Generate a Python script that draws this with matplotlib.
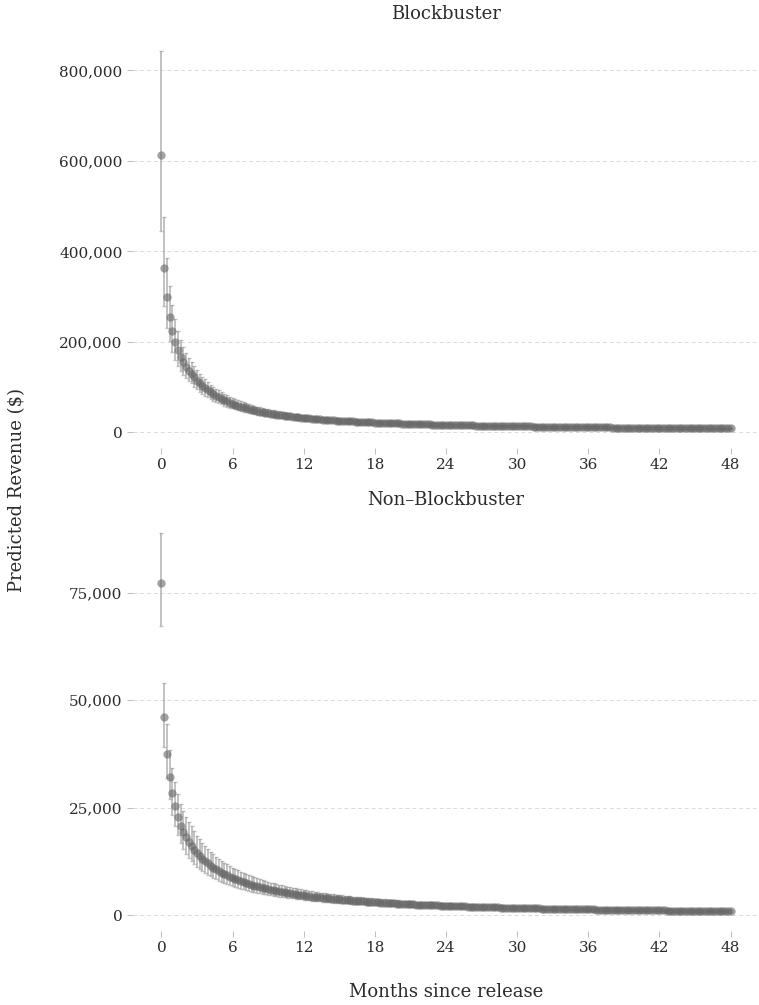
import numpy as np
import matplotlib
matplotlib.use("Agg")
import matplotlib.pyplot as plt
from matplotlib.ticker import FuncFormatter

plt.rcParams['font.family'] = ['DejaVu Serif']

# one point per week, 208 weeks = 48 months
weeks = np.arange(209)
months = weeks * 12 / 52

# predicted revenue ($), blockbuster titles
top_rev = [
    613000, 364000, 298000, 255000, 224000, 200000, 181000, 166200, 154400, 144700,
    136500, 129500, 121300, 114100, 107900, 102400, 97500, 92500, 88000, 84000,
    80400, 77000, 74000, 70900, 68100, 65500, 63100, 60900, 58900, 56860,
    54970, 53190, 51530, 49970, 48500, 47110, 45810, 44570, 43390, 42280,
    41230, 40220, 39260, 38350, 37480, 36640, 35850, 35090, 34350, 33650,
    32980, 32330, 31710, 31130, 30580, 30050, 29540, 29050, 28580, 28120,
    27670, 27240, 26820, 26420, 26030, 25640, 25270, 24920, 24570, 24230,
    23900, 23580, 23270, 22970, 22670, 22390, 22110, 21830, 21570, 21310,
    21050, 20810, 20560, 20330, 20100, 19880, 19660, 19440, 19230, 19020,
    18820, 18630, 18430, 18250, 18060, 17880, 17710, 17530, 17360, 17190,
    17030, 16870, 16710, 16560, 16410, 16260, 16120, 15970, 15830, 15690,
    15560, 15420, 15290, 15160, 15040, 14910, 14790, 14670, 14550, 14440,
    14320, 14210, 14100, 13990, 13880, 13780, 13670, 13570, 13470, 13370,
    13270, 13180, 13080, 12990, 12900, 12810, 12720, 12630, 12540, 12460,
    12370, 12290, 12210, 12130, 12050, 11970, 11890, 11810, 11740, 11660,
    11590, 11510, 11440, 11370, 11300, 11230, 11160, 11100, 11030, 10960,
    10900, 10830, 10770, 10710, 10650, 10580, 10520, 10460, 10400, 10350,
    10290, 10230, 10170, 10120, 10060, 10010, 9950, 9900, 9850, 9800,
    9740, 9690, 9640, 9590, 9540, 9490, 9450, 9400, 9350, 9300,
    9260, 9210, 9170, 9120, 9080, 9030, 8990, 8940, 8900, 8860,
    8820, 8770, 8730, 8690, 8650, 8610, 8570, 8530, 8490,
]

# multiplicative width of the interval (upper = rev * ci, lower = rev / ci)
top_ci = [
    1.375, 1.305, 1.289, 1.27, 1.26, 1.25, 1.24, 1.23, 1.22, 1.21,
    1.2, 1.2, 1.2, 1.2, 1.2, 1.2, 1.2, 1.2, 1.2, 1.2, 1.2, 1.2, 1.2, 1.2, 1.2, 1.2, 1.2, 1.2, 1.2, 1.2,
    1.2, 1.2, 1.2, 1.2, 1.2, 1.2, 1.2, 1.2, 1.2, 1.2, 1.2, 1.2, 1.2, 1.2, 1.2, 1.2, 1.2, 1.2, 1.2, 1.2,
    1.2, 1.2, 1.2, 1.2, 1.2, 1.2, 1.2, 1.2, 1.2, 1.2, 1.2, 1.2, 1.2, 1.2, 1.2, 1.2, 1.2, 1.2, 1.2, 1.2,
    1.2, 1.2, 1.2, 1.2, 1.2, 1.2, 1.2, 1.2, 1.2, 1.2, 1.2, 1.2, 1.2, 1.2, 1.2, 1.2, 1.2, 1.2, 1.2, 1.2,
    1.2, 1.2, 1.2, 1.2, 1.2, 1.2, 1.2, 1.2, 1.2, 1.2, 1.2, 1.2, 1.2, 1.2, 1.2, 1.2, 1.2, 1.2, 1.2, 1.2,
    1.2, 1.2, 1.2, 1.2, 1.2, 1.2, 1.2, 1.2, 1.2, 1.2, 1.2, 1.2, 1.2, 1.2, 1.2, 1.2, 1.2, 1.2, 1.2, 1.2,
    1.2, 1.2, 1.2, 1.2, 1.2, 1.2, 1.2, 1.2, 1.2, 1.2, 1.2, 1.2, 1.2, 1.2, 1.2, 1.2, 1.2, 1.2, 1.2, 1.2,
    1.2, 1.2, 1.2, 1.2, 1.2, 1.2, 1.2, 1.2, 1.2, 1.2, 1.2, 1.2, 1.2, 1.2, 1.2, 1.2, 1.2, 1.2, 1.2, 1.2,
    1.2, 1.2, 1.2, 1.2, 1.2, 1.2, 1.2, 1.2, 1.2, 1.2, 1.2, 1.2, 1.2, 1.2, 1.2, 1.2, 1.2, 1.2, 1.2, 1.2,
    1.2, 1.2, 1.2, 1.2, 1.2, 1.2, 1.2, 1.2, 1.2, 1.2, 1.2, 1.2, 1.2, 1.2, 1.2, 1.2, 1.2, 1.2, 1.2,
]

# predicted revenue ($), non-blockbuster titles
bot_rev = [
    77300, 46000, 37600, 32200, 28300, 25400, 22900, 20800, 19300, 18070,
    17030, 16140, 15240, 14450, 13760, 13140, 12590, 12030, 11530, 11070,
    10650, 10270, 9920, 9570, 9240, 8930, 8650, 8390, 8140, 7890,
    7660, 7440, 7230, 7040, 6860, 6680, 6520, 6360, 6210, 6070,
    5920, 5780, 5650, 5530, 5400, 5290, 5180, 5070, 4970, 4870,
    4780, 4690, 4600, 4510, 4420, 4340, 4260, 4180, 4110, 4030,
    3960, 3900, 3830, 3770, 3710, 3650, 3590, 3530, 3480, 3430,
    3380, 3330, 3280, 3230, 3190, 3140, 3100, 3060, 3020, 2970,
    2930, 2890, 2850, 2820, 2780, 2740, 2710, 2670, 2640, 2600,
    2570, 2540, 2510, 2480, 2450, 2420, 2390, 2370, 2340, 2310,
    2290, 2260, 2240, 2210, 2190, 2170, 2140, 2120, 2090, 2070,
    2050, 2030, 2000, 1980, 1960, 1940, 1920, 1900, 1880, 1860,
    1840, 1830, 1810, 1790, 1770, 1760, 1740, 1720, 1710, 1690,
    1670, 1660, 1640, 1630, 1610, 1600, 1590, 1570, 1560, 1550,
    1530, 1520, 1510, 1490, 1480, 1470, 1460, 1440, 1430, 1420,
    1410, 1400, 1390, 1380, 1370, 1360, 1340, 1330, 1320, 1310,
    1300, 1290, 1280, 1270, 1260, 1250, 1240, 1230, 1220, 1210,
    1200, 1200, 1190, 1180, 1170, 1160, 1150, 1140, 1140, 1130,
    1120, 1110, 1100, 1100, 1090, 1080, 1070, 1070, 1060, 1050,
    1040, 1040, 1030, 1020, 1020, 1010, 1000, 1000, 990, 980,
    980, 970, 970, 960, 950, 950, 940, 940, 930,
]

bot_ci = [
    1.15, 1.175, 1.18, 1.19, 1.21, 1.22, 1.23, 1.24, 1.25, 1.26, 1.27,
    1.28, 1.28, 1.28, 1.28, 1.28, 1.28, 1.28, 1.28, 1.28, 1.28, 1.28, 1.28, 1.28, 1.28, 1.28, 1.28, 1.28, 1.28, 1.28, 1.28,
    1.28, 1.28, 1.28, 1.28, 1.28, 1.28, 1.28, 1.28, 1.28, 1.28, 1.28, 1.28, 1.28, 1.28, 1.28, 1.28, 1.28, 1.28, 1.28, 1.28,
    1.28, 1.28, 1.28, 1.28, 1.28, 1.28, 1.28, 1.28, 1.28, 1.28, 1.28, 1.28, 1.28, 1.28, 1.28, 1.28, 1.28, 1.28, 1.28, 1.28,
    1.28, 1.28, 1.28, 1.28, 1.28, 1.28, 1.28, 1.28, 1.28, 1.28, 1.28, 1.28, 1.28, 1.28, 1.28, 1.28, 1.28, 1.28, 1.28, 1.28,
    1.28, 1.28, 1.28, 1.28, 1.28, 1.28, 1.28, 1.28, 1.28, 1.28, 1.28, 1.28, 1.28, 1.28, 1.28, 1.28, 1.28, 1.28, 1.28, 1.28,
    1.28, 1.28, 1.28, 1.28, 1.28, 1.28, 1.28, 1.28, 1.28, 1.28, 1.28, 1.28, 1.28, 1.28, 1.28, 1.28, 1.28, 1.28, 1.28, 1.28,
    1.28, 1.28, 1.28, 1.28, 1.28, 1.28, 1.28, 1.28, 1.28, 1.28, 1.28, 1.28, 1.28, 1.28, 1.28, 1.28, 1.28, 1.28, 1.28, 1.28,
    1.28, 1.28, 1.28, 1.28, 1.28, 1.28, 1.28, 1.28, 1.28, 1.28, 1.28, 1.28, 1.28, 1.28, 1.28, 1.28, 1.28, 1.28, 1.28, 1.28,
    1.28, 1.28, 1.28, 1.28, 1.28, 1.28, 1.28, 1.28, 1.28, 1.28, 1.28, 1.28, 1.28, 1.28, 1.28, 1.28, 1.28, 1.28, 1.28, 1.28,
    1.28, 1.28, 1.28, 1.28, 1.28, 1.28, 1.28, 1.28, 1.28, 1.28, 1.28, 1.28, 1.28, 1.28, 1.28, 1.28, 1.28, 1.28,
]

month_ticks = [0, 6, 12, 18, 24, 30, 36, 42, 48]
top_yticks = [0, 200000, 400000, 600000, 800000]
bot_yticks = [0, 25000, 50000, 75000]

text_col = '#2b2b2b'
W, H = 759, 1005


def draw_panel(ax, rev, ci, yticks):
    rev = np.array(rev, dtype=float)
    ci = np.array(ci, dtype=float)
    lo = rev / ci
    hi = rev * ci
    ax.errorbar(months, rev, yerr=[rev - lo, hi - rev], fmt='o', ms=6,
                mfc=(0.4, 0.4, 0.4, 0.6), mec='none',
                ecolor=(0.6, 0.6, 0.6, 0.6), elinewidth=1.4,
                capsize=1.2, capthick=1.0, zorder=3)
    ax.margins(x=0.05, y=0.05)
    ax.set_xticks(month_ticks)
    ax.set_yticks(yticks)
    ax.yaxis.set_major_formatter(FuncFormatter(lambda v, p: f"{v:,.0f}"))
    ax.yaxis.grid(True, linestyle=(0, (4, 3)), color='#dadada', linewidth=0.7)
    ax.xaxis.grid(False)
    ax.set_axisbelow(True)
    for s in ax.spines.values():
        s.set_visible(False)
    ax.tick_params(axis='both', colors='#bdbdbd', length=4, width=0.7,
                   labelcolor=text_col, labelsize=11, pad=3.5)


fig = plt.figure(figsize=(W / 100, H / 100), dpi=100)
left = 133 / W
ax_top = fig.add_axes([left, 1 - 448 / H, 1 - left, 416 / H])
ax_bot = fig.add_axes([left, 1 - 931 / H, 1 - left, 417 / H])

draw_panel(ax_top, top_rev, top_ci, top_yticks)
draw_panel(ax_bot, bot_rev, bot_ci, bot_yticks)

fig.text(446 / W, 1 - 14 / H, 'Blockbuster', ha='center', va='center',
         fontsize=13, color=text_col)
fig.text(446 / W, 1 - 500 / H, 'Non\u2013Blockbuster', ha='center', va='center',
         fontsize=13, color=text_col)
fig.text(446 / W, 1 - 992 / H, 'Months since release', ha='center', va='center',
         fontsize=13, color=text_col)
fig.text(17 / W, 1 - 490 / H, 'Predicted Revenue ($)', ha='center', va='center',
         rotation=90, fontsize=13, color=text_col)

fig.savefig('out.png', dpi=100, facecolor='white')
